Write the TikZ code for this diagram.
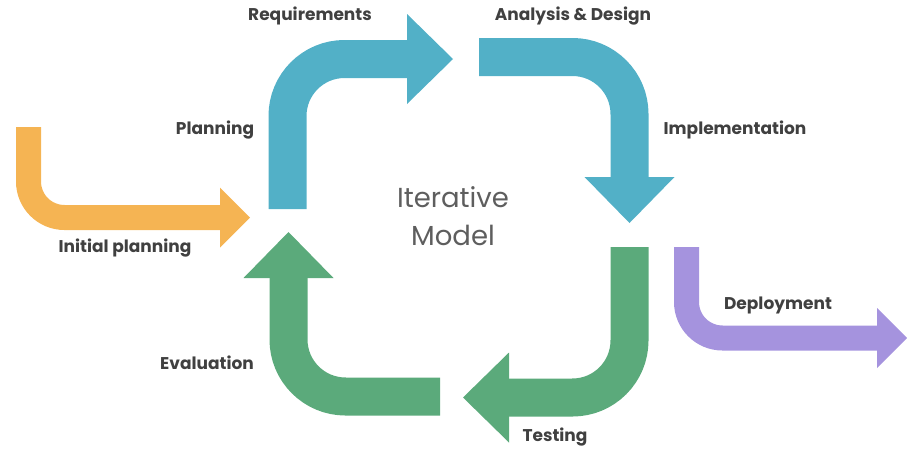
\documentclass[tikz,border=0pt]{standalone}
\usepackage{fontspec}
\setmainfont{Poppins}
\usetikzlibrary{arrows.meta}

\definecolor{planorange}{HTML}{F5B453}
\definecolor{cycleblue}{HTML}{52B0C7}
\definecolor{cyclegreen}{HTML}{5BAA7B}
\definecolor{deploypurple}{HTML}{A593DE}
\definecolor{labelgray}{HTML}{404040}
\definecolor{titlegray}{HTML}{5E5E5E}

\tikzset{
  thinarrow/.style={line width=25pt, rounded corners=36pt,
    -{Triangle[length=30pt,width=60pt,line width=0pt]}},
  thickarrow/.style={line width=38pt, rounded corners=57pt,
    -{Triangle[length=46pt,width=90pt,line width=0pt]}},
  steplabel/.style={font=\bfseries\fontsize{17}{20}\selectfont, text=labelgray},
}

\begin{document}
\begin{tikzpicture}[x=1pt,y=-1pt]
\useasboundingbox (0,0) rectangle (907,450);

\node[steplabel] (requirements) at (310,16) {Requirements};
\node[steplabel] (analysis) at (573,16) {Analysis \& Design};
\node[steplabel] (planning) at (215,130) {Planning};
\node[steplabel] (implementation) at (735,130) {Implementation};
\node[steplabel] (initial) at (125,248) {Initial planning};
\node[steplabel] (evaluation) at (207,363) {Evaluation};
\node[steplabel] (deployment) at (778,305) {Deployment};
\node[steplabel] (testing) at (555,437) {Testing};

\node[font=\fontsize{27.5}{38}\selectfont, text=titlegray, align=center] (model) at (453,216) {Iterative\\Model};

\coordinate (initialstart) at (28.5,127);
\coordinate (initialend) at (250,217.5);
\coordinate (planstart) at (287.5,209);
\coordinate (planend) at (453,59);
\coordinate (designstart) at (479,57);
\coordinate (designend) at (629.5,223);
\coordinate (teststart) at (629.5,247);
\coordinate (testend) at (463,397.5);
\coordinate (evalstart) at (440,396.5);
\coordinate (evalend) at (288.5,232);
\coordinate (deploystart) at (686.5,247);
\coordinate (deployend) at (907,338);

\foreach \from/\to/\col/\kind in {initialstart/initialend/planorange/thinarrow, planstart/planend/cycleblue/thickarrow, teststart/testend/cyclegreen/thickarrow, deploystart/deployend/deploypurple/thinarrow}
	\draw[\kind, draw=\col] (\from) |- (\to);

\foreach \from/\to/\col/\kind in {designstart/designend/cycleblue/thickarrow, evalstart/evalend/cyclegreen/thickarrow}
	\draw[\kind, draw=\col] (\from) -| (\to);
\end{tikzpicture}
\end{document}
